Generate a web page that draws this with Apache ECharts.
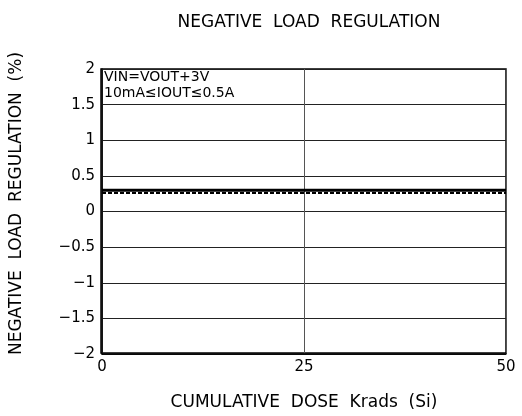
<!DOCTYPE html>
<html>
<head>
<meta charset="utf-8">
<script src="https://cdn.jsdelivr.net/npm/echarts@6/dist/echarts.min.js"></script>
<style>
  html, body { margin: 0; padding: 0; background: #fff; }
  #chart { width: 522px; height: 416px; }
</style>
</head>
<body>
<div id="chart"></div>
<script>
// dose points (Krads) and measured regulation (%)
var dose = [0, 25, 50];
var regSolid = [0.30, 0.30, 0.30];
var regDotted = [0.26, 0.26, 0.26];
var notes = ['VIN=VOUT+3V', '10mA≤IOUT≤0.5A'];

var font = 'DejaVu Sans';

var myChart = echarts.init(document.getElementById('chart'));

var option = {
    animation: false,
    title: {
        text: 'NEGATIVE  LOAD  REGULATION',
        left: 304,
        textAlign: 'center',
        top: 9,
        textStyle: { fontFamily: font, fontWeight: 'normal', fontSize: 17, color: '#000' }
    },
    grid: { left: 101, right: 16, top: 69, bottom: 62 },
    xAxis: {
        type: 'value',
        min: 0, max: 50, interval: 25,
        name: 'CUMULATIVE  DOSE  Krads  (Si)',
        nameLocation: 'middle',
        nameGap: 40,
        nameTextStyle: { fontFamily: font, fontSize: 17, color: '#000' },
        axisLine: { onZero: false, lineStyle: { color: '#000', width: 1.5 } },
        axisTick: { show: false },
        axisLabel: { fontFamily: font, fontSize: 15, color: '#000', margin: 6 },
        splitLine: { show: true, lineStyle: { color: '#555', width: 1 } }
    },
    yAxis: {
        type: 'value',
        min: -2, max: 2, interval: 0.5,
        name: 'NEGATIVE  LOAD  REGULATION  (%)',
        nameLocation: 'middle',
        nameGap: 77,
        nameTextStyle: { fontFamily: font, fontSize: 17, color: '#000', padding: [0, 0, 0, 16] },
        axisLine: { show: true, onZero: false, lineStyle: { color: '#000', width: 1.5 } },
        axisTick: { show: false },
        axisLabel: {
            fontFamily: font, fontSize: 15, color: '#000', margin: 7,
            formatter: function (v) { return String(v).replace('-', '\u2212'); }
        },
        splitLine: { show: true, lineStyle: { color: '#222', width: 1 } }
    },
    graphic: [
        {
            type: 'rect',
            shape: { x: 101, y: 69, width: 405, height: 284 },
            style: { fill: 'none', stroke: '#000', lineWidth: 1.5 },
            silent: true
        },
        {
            type: 'text', left: 104, top: 70,
            style: { text: notes[0], font: '14px DejaVu Sans', fill: '#000' }
        },
        {
            type: 'text', left: 104, top: 86,
            style: { text: notes[1], font: '14px DejaVu Sans', fill: '#000' }
        }
    ],
    series: [
        {
            type: 'line',
            data: dose.map(function (d, i) { return [d, regSolid[i]]; }),
            symbol: 'none',
            lineStyle: { color: '#000', width: 3 }
        },
        {
            type: 'line',
            data: dose.map(function (d, i) { return [d, regDotted[i]]; }),
            symbol: 'none',
            lineStyle: { color: '#000', width: 2, type: [4, 2] }
        }
    ]
};

myChart.setOption(option);
</script>
</body>
</html>
